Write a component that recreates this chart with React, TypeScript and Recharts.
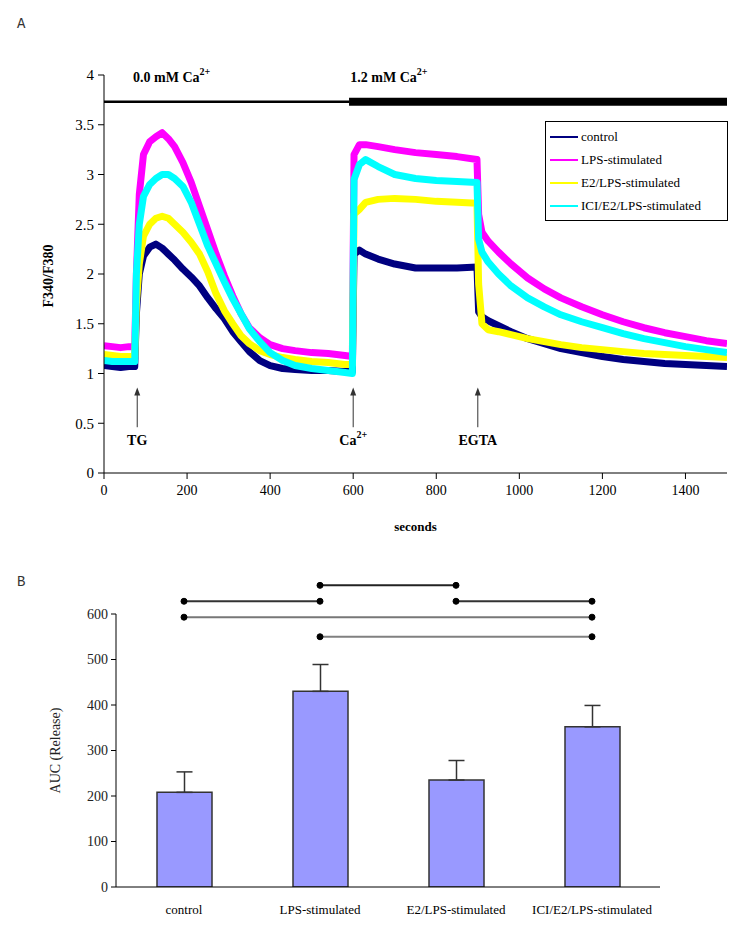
import React from 'react';
import {
  LineChart, Line, XAxis, YAxis, ReferenceLine, ReferenceDot, Legend, Label,
  BarChart, Bar, ErrorBar,
} from 'recharts';

// ---------- Panel A data ----------
const TIME = [0, 20, 40, 60, 74, 78, 85, 95, 110, 125, 140, 155, 170, 190, 210, 230, 250, 270, 290, 310, 330, 350, 375, 400, 430, 460, 500, 540, 580, 598, 602, 615, 630, 660, 700, 750, 800, 850, 898, 902, 910, 925, 950, 980, 1020, 1060, 1100, 1150, 1200, 1250, 1300, 1350, 1400, 1450, 1500];
const CONTROL = [1.08, 1.07, 1.06, 1.07, 1.07, 1.6, 2.0, 2.18, 2.27, 2.3, 2.26, 2.2, 2.14, 2.05, 1.97, 1.88, 1.76, 1.65, 1.55, 1.42, 1.32, 1.22, 1.13, 1.08, 1.05, 1.04, 1.03, 1.03, 1.02, 1.02, 2.2, 2.24, 2.2, 2.15, 2.1, 2.06, 2.06, 2.06, 2.07, 1.62, 1.57, 1.53, 1.48, 1.42, 1.35, 1.3, 1.25, 1.21, 1.17, 1.14, 1.12, 1.1, 1.09, 1.08, 1.07];
const LPS = [1.28, 1.27, 1.26, 1.27, 1.27, 2.0, 2.8, 3.2, 3.33, 3.38, 3.42, 3.36, 3.28, 3.12, 2.92, 2.68, 2.44, 2.2, 1.98, 1.78, 1.6, 1.46, 1.36, 1.29, 1.25, 1.23, 1.21, 1.2, 1.18, 1.17, 3.2, 3.3, 3.3, 3.28, 3.25, 3.22, 3.2, 3.18, 3.15, 2.6, 2.42, 2.33, 2.22, 2.1, 1.96, 1.85, 1.76, 1.67, 1.59, 1.52, 1.46, 1.41, 1.37, 1.33, 1.3];
const E2 = [1.19, 1.18, 1.17, 1.17, 1.17, 1.7, 2.1, 2.38, 2.5, 2.56, 2.58, 2.56, 2.5, 2.42, 2.32, 2.2, 2.02, 1.8, 1.63, 1.5, 1.38, 1.3, 1.23, 1.19, 1.16, 1.14, 1.12, 1.11, 1.09, 1.09, 2.6, 2.65, 2.72, 2.75, 2.76, 2.75, 2.73, 2.72, 2.71, 1.9, 1.5, 1.44, 1.42, 1.39, 1.35, 1.32, 1.29, 1.26, 1.24, 1.22, 1.2, 1.19, 1.18, 1.17, 1.16];
const ICI = [1.13, 1.12, 1.12, 1.12, 1.12, 2.0, 2.5, 2.78, 2.9, 2.96, 3.0, 3.0, 2.96, 2.88, 2.72, 2.5, 2.28, 2.1, 1.92, 1.75, 1.6, 1.45, 1.32, 1.21, 1.13, 1.08, 1.05, 1.03, 1.01, 1.0, 2.95, 3.1, 3.15, 3.08, 3.0, 2.96, 2.94, 2.93, 2.92, 2.35, 2.22, 2.12, 2.0, 1.88, 1.76, 1.67, 1.59, 1.52, 1.46, 1.4, 1.35, 1.31, 1.27, 1.24, 1.21];

const SERIES_NAMES = ['control', 'LPS-stimulated', 'E2/LPS-stimulated', 'ICI/E2/LPS-stimulated'];
const SERIES_KEYS = ['control', 'lps', 'e2', 'ici'];
const SERIES_COLORS = ['#000080', '#FF00FF', '#FFFF00', '#00FFFF'];

const X_TICKS_A = [0, 200, 400, 600, 800, 1000, 1200, 1400];
const Y_TICKS_A = [0, 0.5, 1, 1.5, 2, 2.5, 3, 3.5, 4];

// Events (seconds) and bath labels
const EVENTS = [
  { t: 80, label: 'TG', sup: '' },
  { t: 600, label: 'Ca', sup: '2+' },
  { t: 900, label: 'EGTA', sup: '' },
];
const BATH = [
  { start: 0, end: 590, label: '0.0 mM Ca', textAt: 70 },
  { start: 590, end: 1500, label: '1.2 mM Ca', textAt: 593 },
];

// ---------- Panel B data ----------
const GROUPS = ['control', 'LPS-stimulated', 'E2/LPS-stimulated', 'ICI/E2/LPS-stimulated'];
const AUC = [208, 430, 235, 352];
const AUC_ERR = [45, 59, 43, 47];
const Y_TICKS_B = [0, 100, 200, 300, 400, 500, 600];
const SIG_PAIRS = [
  { a: 1, b: 2, y: 663, color: '#222' },
  { a: 0, b: 1, y: 628, color: '#333' },
  { a: 2, b: 3, y: 628, color: '#333' },
  { a: 0, b: 3, y: 593, color: '#777' },
  { a: 1, b: 3, y: 550, color: '#808080' },
];

const traceData = TIME.map((t, i) => ({ t, control: CONTROL[i], lps: LPS[i], e2: E2[i], ici: ICI[i] }));
const barData = GROUPS.map((g, i) => ({ pos: i + 0.5, name: g, auc: AUC[i], err: [0, AUC_ERR[i]] }));

const SERIF = '"Liberation Serif", "Times New Roman", serif';

const LegendBox = () => (
  <div style={{
    border: '1.5px solid #000', background: '#fff', width: 183, boxSizing: 'border-box',
    padding: '3px 0 3px 4px', fontFamily: SERIF, fontSize: 13, color: '#000',
  }}>
    {SERIES_NAMES.map((n, i) => (
      <div key={n} style={{ display: 'flex', alignItems: 'center', height: 23 }}>
        <span style={{ display: 'inline-block', width: 28, borderTop: `2px solid ${SERIES_COLORS[i]}`, marginRight: 3 }} />
        <span style={{ fontFamily: SERIF }}>{n}</span>
      </div>
    ))}
  </div>
);

export default function App() {
  return (
    <div style={{ position: 'absolute', left: 0, top: 0, width: 751, height: 926, background: '#fff', fontFamily: SERIF }}>
      <style>{`svg text, svg tspan { font-family: "Liberation Serif", "Times New Roman", serif; }`}</style>
      <div style={{ position: 'absolute', left: 17, top: 16, fontFamily: '"Liberation Mono", monospace', fontSize: 14, color: '#333' }}>A</div>
      <div style={{ position: 'absolute', left: 17, top: 574, fontFamily: '"Liberation Mono", monospace', fontSize: 14, color: '#333' }}>B</div>

      <div style={{ position: 'absolute', left: 0, top: 0 }}>
        <LineChart width={751} height={560} data={traceData} margin={{ top: 75, right: 24, left: 0, bottom: 0 }}>
          <XAxis
            dataKey="t" type="number" domain={[0, 1500]} ticks={X_TICKS_A} allowDataOverflow
            height={87} tickSize={6} tickMargin={6}
            stroke="#000" tick={{ fill: '#000', fontSize: 14, fontFamily: SERIF }}
          >
            <Label content={(p: any) => {
              const vb = p.viewBox || {};
              return <text x={vb.x + vb.width / 2} y={vb.y + 58} textAnchor="middle" fontFamily={SERIF} fontSize={13} fontWeight="bold" fill="#000">seconds</text>;
            }} />
          </XAxis>
          <YAxis
            type="number" domain={[0, 4]} ticks={Y_TICKS_A} allowDataOverflow
            width={104} tickSize={6} tickMargin={4}
            stroke="#000" tick={{ fill: '#000', fontSize: 15, fontFamily: SERIF }}
          >
            <Label content={(p: any) => {
              const vb = p.viewBox || {};
              const cy = vb.y + vb.height / 2 + 2;
              return <text x={48} y={cy} transform={`rotate(-90, 48, ${cy})`} textAnchor="middle" dominantBaseline="central" fontFamily={SERIF} fontSize={14} fontWeight="bold" fill="#000">F340/F380</text>;
            }} />
          </YAxis>

          {SERIES_KEYS.map((k, i) => (
            <Line key={k} dataKey={k} name={SERIES_NAMES[i]} stroke={SERIES_COLORS[i]} strokeWidth={7}
              dot={false} type="linear" isAnimationActive={false} strokeLinejoin="round" />
          ))}

          {BATH.map((b, i) => (
            <ReferenceLine key={'bath' + i} segment={[{ x: b.start, y: 3.73 }, { x: b.end, y: 3.73 }]}
              stroke="#000" strokeWidth={i === 0 ? 2.5 : 8} ifOverflow="visible" />
          ))}
          {BATH.map((b, i) => (
            <ReferenceDot key={'bathLbl' + i} x={b.textAt} y={3.93} r={0} ifOverflow="visible"
              shape={(p: any) => (
                <text x={p.cx} y={p.cy} fontFamily={SERIF} fontSize={14} fontWeight="bold" fill="#000" textAnchor="start">
                  {b.label}<tspan dy={-7} fontSize={10}>2+</tspan>
                </text>
              )} />
          ))}

          {EVENTS.map((e, i) => (
            <ReferenceLine key={'ev' + i} segment={[{ x: e.t, y: 0.46 }, { x: e.t, y: 0.83 }]}
              stroke="#333" strokeWidth={1} />
          ))}
          {EVENTS.map((e, i) => (
            <ReferenceDot key={'evh' + i} x={e.t} y={0.86} r={0}
              shape={(p: any) => <path d={`M${p.cx},${p.cy} L${p.cx - 3},${p.cy + 8} L${p.cx + 3},${p.cy + 8} Z`} fill="#333" />} />
          ))}
          {EVENTS.map((e, i) => (
            <ReferenceDot key={'evl' + i} x={e.t} y={0.28} r={0}
              shape={(p: any) => (
                <text x={p.cx} y={p.cy} fontFamily={SERIF} fontSize={14} fontWeight="bold" fill="#000" textAnchor="middle">
                  {e.label}{e.sup ? <tspan dy={-7} fontSize={10}>{e.sup}</tspan> : null}
                </text>
              )} />
          ))}

          <Legend layout="vertical" align="center" verticalAlign="middle"
            wrapperStyle={{ left: 545, top: 121, width: 183, height: 98 }}
            content={() => <LegendBox />} />
        </LineChart>
      </div>

      <div style={{ position: 'absolute', left: 0, top: 560 }}>
        <BarChart width={751} height={366} data={barData} margin={{ top: 54, right: 91, left: 0, bottom: 1 }}>
          <XAxis xAxisId={0} dataKey="pos" type="number" domain={[0, 4]} ticks={[0, 1, 2, 3, 4]} allowDataOverflow
            height={6} tickSize={6} tick={false} stroke="#000" />
          <XAxis xAxisId="lbl" dataKey="pos" type="number" domain={[0, 4]} ticks={[0.5, 1.5, 2.5, 3.5]} allowDataOverflow
            height={32} tickSize={0} tickMargin={12} axisLine={false} tickLine={false}
            tickFormatter={(v: number) => GROUPS[Math.floor(v)]}
            tick={{ fill: '#000', fontSize: 13, fontFamily: SERIF }} />
          <YAxis type="number" domain={[0, 600]} ticks={Y_TICKS_B} allowDataOverflow
            width={116} tickSize={5} tickMargin={3} stroke="#000"
            tick={{ fill: '#222', fontSize: 14, fontFamily: SERIF }}>
            <Label content={(p: any) => {
              const vb = p.viewBox || {};
              const cy = vb.y + vb.height / 2;
              return <text x={55} y={cy} transform={`rotate(-90, 55, ${cy})`} textAnchor="middle" dominantBaseline="central" fontFamily={SERIF} fontSize={14} fill="#222">AUC (Release)</text>;
            }} />
          </YAxis>
          <Bar dataKey="auc" xAxisId={0} barSize={55} fill="#9999FF" stroke="#333" strokeWidth={1.5} isAnimationActive={false}>
            <ErrorBar dataKey="err" direction="y" width={8} stroke="#333" strokeWidth={1.5} />
          </Bar>
          {SIG_PAIRS.map((s, i) => (
            <ReferenceLine key={'sig' + i} xAxisId={0}
              segment={[{ x: s.a + 0.5, y: s.y }, { x: s.b + 0.5, y: s.y }]}
              stroke={s.color} strokeWidth={2} ifOverflow="visible" />
          ))}
          {SIG_PAIRS.flatMap((s, i) => [s.a, s.b].map((g, j) => (
            <ReferenceDot key={`sd${i}-${j}`} xAxisId={0} x={g + 0.5} y={s.y} r={3}
              fill="#000" stroke="#000" ifOverflow="visible" />
          )))}
        </BarChart>
      </div>
    </div>
  );
}
